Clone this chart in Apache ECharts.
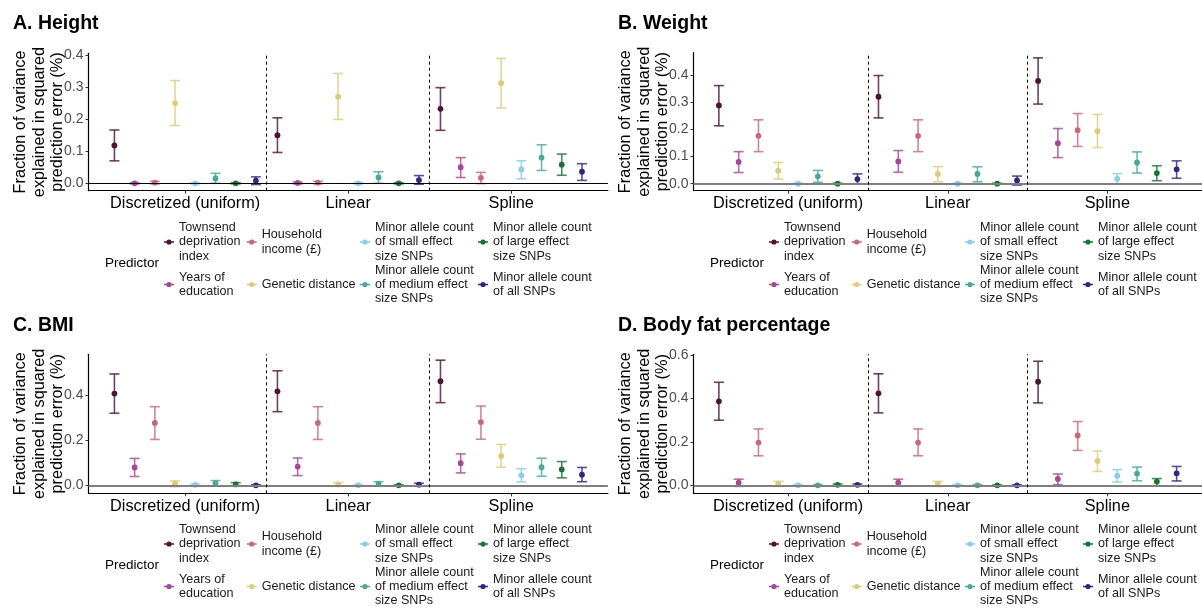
<!DOCTYPE html>
<html>
<head>
<meta charset="utf-8">
<script src="https://cdn.jsdelivr.net/npm/echarts@6/dist/echarts.min.js"></script>
<style>
  html, body { margin: 0; padding: 0; background: #fff; }
  #chart { width: 1202px; height: 609px; }
</style>
</head>
<body>
<div id="chart"></div>
<script>
// ---- data ----
const methods = ['Discretized (uniform)', 'Linear', 'Spline'];
const predictors = [
  'Townsend deprivation index',
  'Years of education',
  'Household income (£)',
  'Genetic distance',
  'Minor allele count of small effect size SNPs',
  'Minor allele count of medium effect size SNPs',
  'Minor allele count of large effect size SNPs',
  'Minor allele count of all SNPs'
];
const predictorLabels = [
  'Townsend\ndeprivation\nindex',
  'Years of\neducation',
  'Household\nincome (£)',
  'Genetic distance',
  'Minor allele count\nof small effect\nsize SNPs',
  'Minor allele count\nof medium effect\nsize SNPs',
  'Minor allele count\nof large effect\nsize SNPs',
  'Minor allele count\nof all SNPs'
];
const predictorColors = ['#4e1232', '#aa4499', '#cc6677', '#ddcc77', '#88ccee', '#44aa99', '#117733', '#332288'];
const panelTitles = ['A. Height', 'B. Weight', 'C. BMI', 'D. Body fat percentage'];
const axisTitle = 'Fraction of variance\nexplained in squared\nprediction error (%)';
const legendTitle = 'Predictor';

// rows: predictors; columns: methods (discretized, linear, spline)
const heightEst = [[0.118, 0.150, 0.232], [0.000, 0.001, 0.050], [0.002, 0.002, 0.017], [0.250, 0.270, 0.312], [0.000, 0.000, 0.043], [0.015, 0.018, 0.080], [0.000, 0.000, 0.058], [0.008, 0.010, 0.036]];
const heightLo  = [[0.070, 0.096, 0.165], [-0.002, -0.002, 0.018], [-0.002, -0.002, -0.001], [0.180, 0.199, 0.235], [-0.002, -0.002, 0.014], [0.000, 0.000, 0.040], [-0.002, -0.002, 0.025], [-0.004, -0.003, 0.009]];
const heightHi  = [[0.166, 0.204, 0.298], [0.002, 0.004, 0.080], [0.006, 0.006, 0.034], [0.320, 0.342, 0.389], [0.002, 0.002, 0.070], [0.031, 0.036, 0.120], [0.002, 0.002, 0.091], [0.020, 0.024, 0.061]];

const weightEst = [[0.288, 0.320, 0.378], [0.080, 0.082, 0.149], [0.176, 0.176, 0.197], [0.048, 0.036, 0.193], [0.000, 0.000, 0.018], [0.027, 0.036, 0.078], [0.000, 0.000, 0.039], [0.017, 0.012, 0.053]];
const weightLo  = [[0.213, 0.242, 0.293], [0.041, 0.042, 0.096], [0.118, 0.118, 0.137], [0.017, 0.007, 0.133], [-0.002, -0.002, 0.000], [0.005, 0.007, 0.039], [-0.002, -0.002, 0.011], [0.000, -0.005, 0.020]];
const weightHi  = [[0.361, 0.398, 0.463], [0.118, 0.122, 0.203], [0.235, 0.235, 0.258], [0.078, 0.063, 0.255], [0.002, 0.002, 0.037], [0.049, 0.062, 0.117], [0.002, 0.002, 0.066], [0.036, 0.028, 0.084]];

const bmiEst = [[0.406, 0.416, 0.461], [0.079, 0.083, 0.098], [0.276, 0.276, 0.280], [0.007, 0.004, 0.130], [0.002, 0.000, 0.044], [0.009, 0.006, 0.080], [0.004, 0.000, 0.070], [0.000, 0.003, 0.047]];
const bmiLo  = [[0.319, 0.326, 0.366], [0.039, 0.043, 0.055], [0.203, 0.203, 0.204], [-0.006, -0.004, 0.080], [-0.002, -0.002, 0.015], [-0.003, -0.004, 0.040], [-0.004, -0.002, 0.033], [-0.003, -0.004, 0.016]];
const bmiHi  = [[0.493, 0.507, 0.554], [0.119, 0.121, 0.139], [0.348, 0.348, 0.351], [0.019, 0.012, 0.181], [0.006, 0.002, 0.073], [0.021, 0.016, 0.120], [0.012, 0.002, 0.105], [0.003, 0.009, 0.079]];

const bodyFatEst = [[0.387, 0.424, 0.478], [0.012, 0.012, 0.029], [0.197, 0.197, 0.230], [0.008, 0.008, 0.112], [0.000, 0.000, 0.044], [0.000, 0.000, 0.054], [0.002, 0.000, 0.017], [0.002, 0.000, 0.055]];
const bodyFatLo  = [[0.300, 0.334, 0.380], [-0.005, -0.003, 0.003], [0.136, 0.136, 0.161], [-0.005, -0.005, 0.064], [-0.003, -0.002, 0.015], [-0.002, -0.003, 0.021], [-0.003, -0.002, -0.002], [-0.003, -0.002, 0.020]];
const bodyFatHi  = [[0.475, 0.514, 0.572], [0.028, 0.028, 0.052], [0.260, 0.260, 0.294], [0.018, 0.018, 0.158], [0.003, 0.002, 0.072], [0.002, 0.003, 0.084], [0.006, 0.002, 0.031], [0.006, 0.002, 0.087]];

const heightTicks = [0, 0.1, 0.2, 0.3, 0.4];
const weightTicks = [0, 0.1, 0.2, 0.3, 0.4];
const bmiTicks = [0, 0.2, 0.4];
const bodyFatTicks = [0, 0.2, 0.4, 0.6];

// ---- layout ----
const FONT = "'Liberation Sans', Arial, Helvetica, sans-serif";
const DODGE = 0.124;           // horizontal spacing between predictors within a method
const X_MIN = -0.593, X_MAX = 2.593;
const panels = [
  { est: heightEst, lo: heightLo, hi: heightHi, ticks: heightTicks, yMin: -0.0231, yMax: 0.405,
    grid: { left: 88.5, top: 53.3, width: 519.4, height: 137.4 }, dx: 0, dy: 0, zero: { color: '#000', width: 1 } },
  { est: weightEst, lo: weightLo, hi: weightHi, ticks: weightTicks, yMin: -0.0258, yMax: 0.482,
    grid: { left: 693.5, top: 52.7, width: 519.4, height: 138 }, dx: 605, dy: 0, zero: { color: '#7f7f7f', width: 1.8 } },
  { est: bmiEst, lo: bmiLo, hi: bmiHi, ticks: bmiTicks, yMin: -0.0354, yMax: 0.580,
    grid: { left: 88.5, top: 354.3, width: 519.4, height: 139 }, dx: 0, dy: 302, zero: { color: '#7f7f7f', width: 1.8 } },
  { est: bodyFatEst, lo: bodyFatLo, hi: bodyFatHi, ticks: bodyFatTicks, yMin: -0.0369, yMax: 0.604,
    grid: { left: 693.5, top: 354.3, width: 519.4, height: 139 }, dx: 605, dy: 302, zero: { color: '#7f7f7f', width: 1.8 } }
];
const legendKeyLeft = [164, 246.7, 360, 478];   // per legend column (panel A frame)
const legendRowCenter = [242, 284.5];
const LEGEND_LINE = 14.3;
// short horizontal line through a dot (point-range key)
const legendIcon = 'path://M0,2.3h10v1.4h-10z M2.4,3a2.6,2.6 0 1,1 5.2,0a2.6,2.6 0 1,1 -5.2,0z';

function renderErrorBar(params, api) {
  const x = api.value(0);
  const pMid = api.coord([x, api.value(1)]);
  const pLo = api.coord([x, api.value(2)]);
  const pHi = api.coord([x, api.value(3)]);
  const color = api.visual('color');
  const cap = 5;
  const barStyle = { stroke: color, lineWidth: 1.6, opacity: 0.8 };
  return {
    type: 'group',
    children: [
      { type: 'line', shape: { x1: pLo[0], y1: pLo[1], x2: pHi[0], y2: pHi[1] }, style: barStyle },
      { type: 'line', shape: { x1: pLo[0] - cap, y1: pLo[1], x2: pLo[0] + cap, y2: pLo[1] }, style: barStyle },
      { type: 'line', shape: { x1: pHi[0] - cap, y1: pHi[1], x2: pHi[0] + cap, y2: pHi[1] }, style: barStyle },
      { type: 'circle', shape: { cx: pMid[0], cy: pMid[1], r: 2.9 }, style: { fill: color } }
    ]
  };
}

const grids = [], xAxes = [], yAxes = [], series = [], legends = [], titles = [];

panels.forEach((p, pi) => {
  grids.push(Object.assign({ containLabel: false }, p.grid));

  xAxes.push({
    type: 'value', gridIndex: pi, min: X_MIN, max: X_MAX,
    axisLine: { show: true, onZero: false, lineStyle: { color: '#000', width: 1.2 } },
    axisTick: { show: true, customValues: methods.map((m, i) => i), length: 3, lineStyle: { color: '#333' } },
    axisLabel: { customValues: methods.map((m, i) => i), formatter: v => methods[Math.round(v)],
                 fontSize: 16.3, color: '#000', margin: 5, fontFamily: FONT },
    splitLine: { show: false }
  });

  yAxes.push({
    type: 'value', gridIndex: pi, min: p.yMin, max: p.yMax,
    axisLine: { show: true, onZero: false, lineStyle: { color: '#000', width: 1.2 } },
    axisTick: { show: true, customValues: p.ticks, length: 3, lineStyle: { color: '#333' } },
    axisLabel: { customValues: p.ticks, formatter: v => v.toFixed(1), fontSize: 14, color: '#4d4d4d', margin: 5, fontFamily: FONT },
    splitLine: { show: false },
    name: axisTitle, nameLocation: 'middle', nameRotate: 90, nameGap: 22, nameMoveOverlap: false,
    nameTextStyle: { fontSize: 16.3, lineHeight: 18.3, color: '#000', fontFamily: FONT }
  });

  // reference lines: zero line and dashed separators between methods
  series.push({
    type: 'line', xAxisIndex: pi, yAxisIndex: pi, data: [], silent: true, z: 1,
    markLine: {
      symbol: 'none', silent: true, animation: false, label: { show: false },
      data: [{ yAxis: 0, lineStyle: { color: p.zero.color, width: p.zero.width, type: 'solid' } }]
        .concat(methods.slice(1).map((m, i) => ({ xAxis: i + 0.5, lineStyle: { color: '#000', width: 1, type: [3, 3] } })))
    }
  });

  predictors.forEach((name, j) => {
    series.push({
      type: 'custom', name: name, xAxisIndex: pi, yAxisIndex: pi, z: 3,
      itemStyle: { color: predictorColors[j] },
      renderItem: renderErrorBar,
      encode: { x: 0, y: [1, 2, 3] },
      data: methods.map((m, i) => [i + (j - 3.5) * DODGE, p.est[j][i], p.lo[j][i], p.hi[j][i]])
    });

    const lines = predictorLabels[j].split('\n').length;
    legends.push({
      data: [name], orient: 'vertical', padding: 0,
      left: legendKeyLeft[Math.floor(j / 2)] + p.dx,
      top: legendRowCenter[j % 2] + p.dy - lines * LEGEND_LINE / 2,
      itemWidth: 10, itemHeight: 5.2, icon: legendIcon,
      formatter: n => predictorLabels[predictors.indexOf(n)],
      textStyle: { fontSize: 12.6, lineHeight: LEGEND_LINE, color: '#1a1a1a', fontFamily: FONT }
    });
  });

  titles.push({
    text: panelTitles[pi], left: 13 + p.dx, top: 14 + p.dy, padding: 0,
    textStyle: { fontSize: 19.5, fontWeight: 'bold', color: '#000', fontFamily: FONT }
  });
  titles.push({
    text: legendTitle, left: 105 + p.dx, top: 256 + p.dy, padding: 0,
    textStyle: { fontSize: 13.5, fontWeight: 'normal', color: '#000', fontFamily: FONT }
  });
});

const chart = echarts.init(document.getElementById('chart'), null, { renderer: 'canvas' });
chart.setOption({
  animation: false,
  backgroundColor: '#fff',
  textStyle: { fontFamily: FONT },
  title: titles,
  grid: grids,
  xAxis: xAxes,
  yAxis: yAxes,
  legend: legends,
  series: series
});
</script>
</body>
</html>
